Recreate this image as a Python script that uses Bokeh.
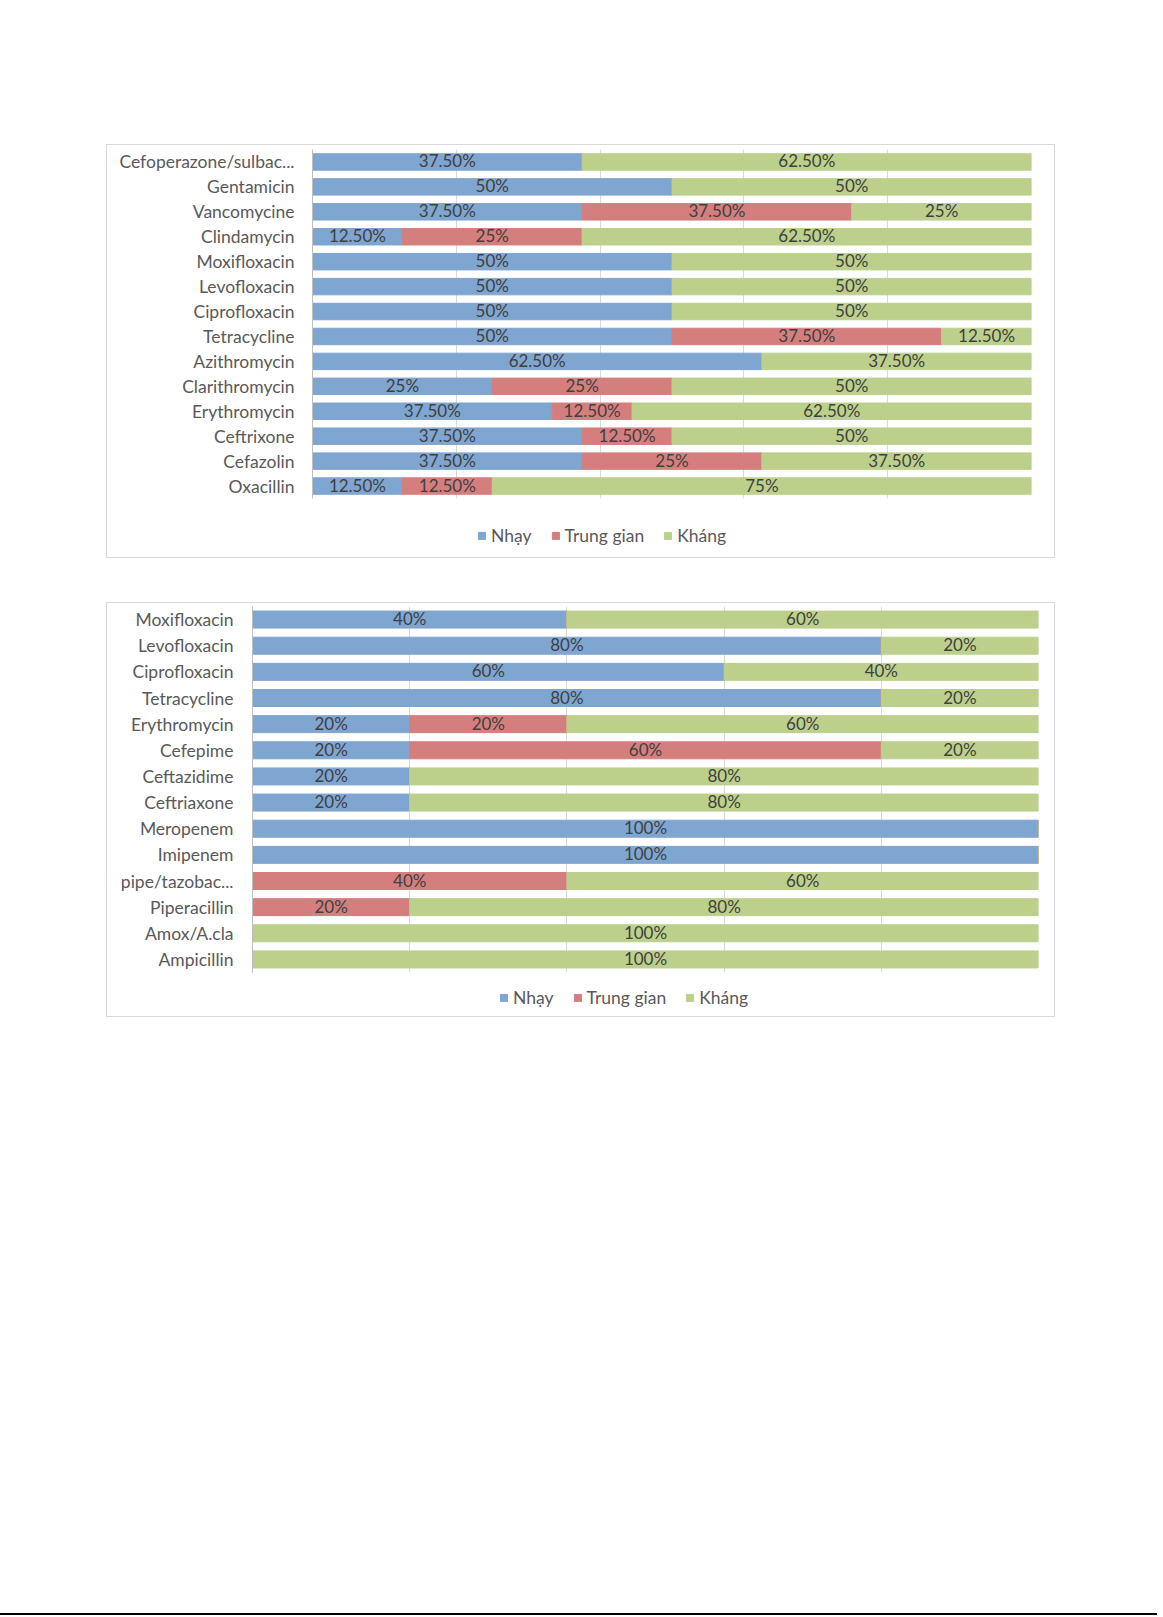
from bokeh.plotting import figure
from bokeh.models import (ColumnDataSource, FactorRange, Range1d, FixedTicker, Legend,
                          LegendItem, LabelSet, Spacer)
from bokeh.layouts import column, row
from bokeh.embed import file_html
from bokeh.resources import INLINE
from bokeh.core.properties import value

FONT = "Lato"

series = ["Nhạy", "Trung gian", "Kháng"]
colors = ["#7FA5D1", "#D47F7E", "#BCD08C"]

# Chart 1 (top to bottom)
cats1 = ["Cefoperazone/sulbac...", "Gentamicin", "Vancomycine", "Clindamycin", "Moxifloxacin",
         "Levofloxacin", "Ciprofloxacin", "Tetracycline", "Azithromycin", "Clarithromycin",
         "Erythromycin", "Ceftrixone", "Cefazolin", "Oxacillin"]
nhay1 = [37.5, 50, 37.5, 12.5, 50, 50, 50, 50, 62.5, 25, 37.5, 37.5, 37.5, 12.5]
trung1 = [0, 0, 37.5, 25, 0, 0, 0, 37.5, 0, 25, 12.5, 12.5, 25, 12.5]
khang1 = [62.5, 50, 25, 62.5, 50, 50, 50, 12.5, 37.5, 50, 62.5, 50, 37.5, 75]

# Chart 2 (top to bottom)
cats2 = ["Moxifloxacin", "Levofloxacin", "Ciprofloxacin", "Tetracycline", "Erythromycin",
         "Cefepime", "Ceftazidime", "Ceftriaxone", "Meropenem", "Imipenem", "pipe/tazobac...",
         "Piperacillin", "Amox/A.cla", "Ampicillin"]
nhay2 = [40, 80, 60, 80, 20, 20, 20, 20, 100, 100, 0, 0, 0, 0]
trung2 = [0, 0, 0, 0, 20, 60, 0, 0, 0, 0, 40, 20, 0, 0]
khang2 = [60, 20, 40, 20, 60, 20, 80, 80, 0, 0, 60, 80, 100, 100]

grid_ticks = [0.2, 0.4, 0.6, 0.8, 1.0]


def fmt(v):
    return f"{v:.2f}%" if v % 1 else f"{int(v)}%"


def make_chart(cats, n, t, k, W, H, bl, br, bt, bb, bar_h, standoff, LH, leg_x, leg_y):
    tot = [a + b + c for a, b, c in zip(n, t, k)]
    fn = [a / s for a, s in zip(n, tot)]
    ft = [b / s for b, s in zip(t, tot)]
    fk = [c / s for c, s in zip(k, tot)]
    src = ColumnDataSource(dict(cat=cats, n=fn, t=ft, k=fk))

    yr = FactorRange(factors=cats[::-1], range_padding=0)
    xr = Range1d(0, 1)
    p = figure(width=W, height=H, y_range=yr, x_range=xr, output_backend="svg",
               toolbar_location=None, min_border_left=bl, min_border_right=br,
               min_border_top=bt, min_border_bottom=bb)
    p.outline_line_color = None
    p.background_fill_color = "white"
    p.border_fill_color = "white"

    p.hbar_stack(["n", "t", "k"], y="cat", height=bar_h, color=colors, source=src)

    # data labels, centred in each segment
    lx, ly, lt = [], [], []
    for i, c in enumerate(cats):
        start = 0.0
        for raw, frac in ((n[i], fn[i]), (t[i], ft[i]), (k[i], fk[i])):
            if raw > 0:
                lx.append(start + frac / 2)
                ly.append(c)
                lt.append(fmt(raw))
            start += frac
    lsrc = ColumnDataSource(dict(x=lx, y=ly, text=lt))
    labels = LabelSet(x="x", y="y", text="text", source=lsrc, text_align="center",
                      text_baseline="middle", text_font=value(FONT), text_font_size="17px",
                      text_color="#404040", y_offset=1)
    p.add_layout(labels)

    p.xaxis.visible = False
    p.xgrid.ticker = FixedTicker(ticks=grid_ticks)
    p.xgrid.grid_line_color = "#D9D9D9"
    p.ygrid.grid_line_color = None

    p.yaxis.axis_line_color = "#BFBFBF"
    p.yaxis.major_tick_line_color = None
    p.yaxis.minor_tick_line_color = None
    p.yaxis.major_label_text_font = FONT
    p.yaxis.major_label_text_font_size = "17.5px"
    p.yaxis.major_label_text_color = "#595959"
    p.yaxis.major_label_standoff = standoff

    # legend strip below the plot (legend proxies share the chart data, hidden)
    pl = figure(width=W, height=LH, x_range=xr, y_range=yr,
                output_backend="svg", toolbar_location=None, min_border=0)
    pl.axis.visible = False
    pl.grid.visible = False
    pl.outline_line_color = None
    rs = pl.hbar_stack(["n", "t", "k"], y="cat", height=bar_h, color=colors, source=src)
    for r in rs:
        r.visible = False
    legend = Legend(items=[LegendItem(label=s, renderers=[r]) for s, r in zip(series, rs)],
                    orientation="horizontal", location=(leg_x, leg_y),
                    glyph_width=9, glyph_height=9, label_standoff=5, spacing=19,
                    padding=0, margin=0, label_height=16,
                    label_text_font=FONT, label_text_font_size="17.5px",
                    label_text_color="#595959",
                    border_line_color=None, background_fill_alpha=0,
                    inactive_fill_alpha=0)
    pl.add_layout(legend)

    return column(p, pl, styles={"border": "1px solid #D9D9D9"})


box1 = make_chart(cats1, nhay1, trung1, khang1, 947, 359, 205, 23, 4, 6, 0.66, 12, 53, 165, 11)
box2 = make_chart(cats2, nhay2, trung2, khang2, 947, 375, 145, 16, 3, 6, 0.65, 13, 38, 247, 8)

# page edge line at the bottom
bottom_line = Spacer(width=1157, height=2, styles={"background-color": "#000000"})

layout = column(
    Spacer(height=144),
    row(Spacer(width=106), box1),
    Spacer(height=44),
    row(Spacer(width=106), box2),
    Spacer(height=596),
    bottom_line,
)

open("out.html", "w").write(file_html(layout, INLINE))
